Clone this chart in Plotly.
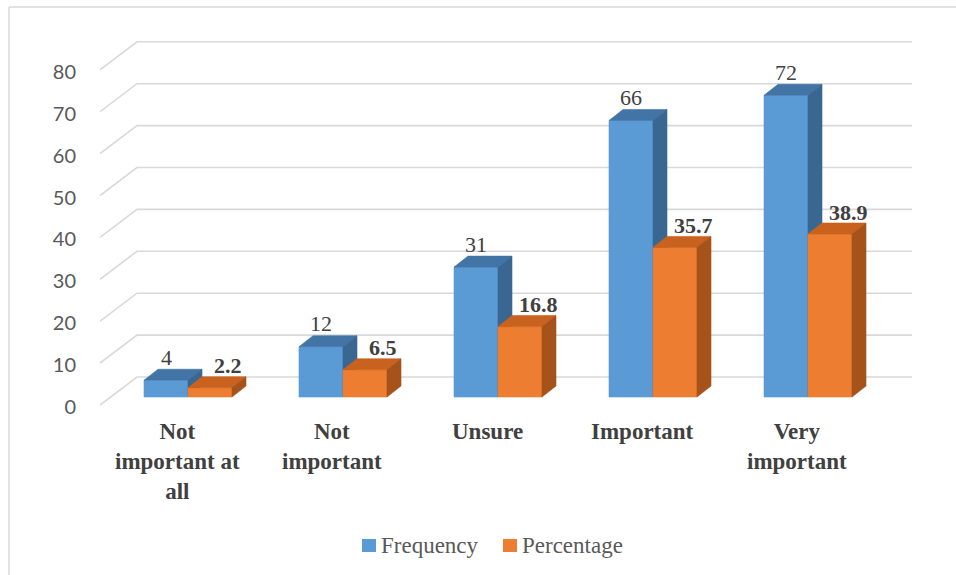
import plotly.graph_objects as go

# ---------------- data ----------------
categories = ["Not<br>important at<br>all", "Not<br>important", "Unsure", "Important", "Very<br>important"]
frequency = [4, 12, 31, 66, 72]
percentage = [2.2, 6.5, 16.8, 35.7, 38.9]
freq_labels = ["4", "12", "31", "66", "72"]
pct_labels = ["2.2", "6.5", "16.8", "35.7", "38.9"]
y_ticks = [0, 10, 20, 30, 40, 50, 60, 70, 80]
series_names = ["Frequency", "Percentage"]

# ---------------- style / geometry ----------------
W, H = 956, 575
ML, MR, MT, MB = 100, 36, 30, 165
PW, PH = W - ML - MR, H - MT - MB
PX_PER_CAT = 155.0
PX_PER_UNIT = 4.19
X0_PIX = 188.0        # pixel of category 0 centre
Y0_PIX = 397.0        # pixel of value 0 on the bar plane

def px_to_x(p):
    return (p - X0_PIX) / PX_PER_CAT

def px_to_y(p):
    return (Y0_PIX - p) / PX_PER_UNIT

def py_paper(p):
    return (MT + PH - p) / PH

def px_paper(p):
    return (p - ML) / PW

x_range = [px_to_x(ML), px_to_x(ML + PW)]
y_range = [px_to_y(MT + PH), px_to_y(MT)]

bar_w = 44 / PX_PER_CAT
dep_dx, dep_dy = 14 / PX_PER_CAT, 11 / PX_PER_UNIT      # bar depth
wall_dy = 20 / PX_PER_UNIT                              # back wall offset
front_dy = -8 / PX_PER_UNIT                             # front edge offset
wall_left = px_to_x(137)
wall_right = px_to_x(912)
left_edge = x_range[0]

colors = {
    "Frequency": ("#5B9BD5", "#4275A6", "#3A6792"),
    "Percentage": ("#ED7D31", "#C8621E", "#A5531A"),
}
grid_color = "#D9D9D9"

fig = go.Figure()

# gridlines: side diagonal + back wall
for v in y_ticks:
    fig.add_trace(go.Scatter(
        x=[left_edge, wall_left, wall_right],
        y=[v + front_dy, v + wall_dy, v + wall_dy],
        mode="lines", line=dict(color=grid_color, width=1.6),
        hoverinfo="skip", showlegend=False))

def add_face(xs, ys, color):
    fig.add_trace(go.Scatter(
        x=xs, y=ys, fill="toself", fillcolor=color, mode="lines",
        line=dict(color=color, width=0.6), hoverinfo="skip", showlegend=False))

for i in range(len(categories)):
    for name, vals, left in (("Frequency", frequency, i - bar_w), ("Percentage", percentage, i)):
        h = vals[i]
        L, R = left, left + bar_w
        cf, ct, cs = colors[name]
        add_face([L, R, R, L, L], [0, 0, h, h, 0], cf)
        add_face([L, R, R + dep_dx, L + dep_dx, L], [h, h, h + dep_dy, h + dep_dy, h], ct)
        add_face([R, R + dep_dx, R + dep_dx, R, R], [0, dep_dy, h + dep_dy, h, 0], cs)

annotations = []
serif = "Liberation Serif, Times New Roman, serif"
for i in range(len(categories)):
    annotations.append(dict(
        x=i - bar_w / 2, y=frequency[i], text=freq_labels[i], showarrow=False,
        yanchor="middle", yshift=23, font=dict(family=serif, size=22, color="#404040")))
    annotations.append(dict(
        x=i + bar_w / 2, y=percentage[i], text="<b>" + pct_labels[i] + "</b>", showarrow=False,
        yanchor="middle", yshift=22, xshift=18, font=dict(family=serif, size=22, color="#404040")))
    annotations.append(dict(
        x=i + px_to_x(X0_PIX - 11), xref="x", y=py_paper(417), yref="paper",
        text="<b>" + categories[i] + "</b>",
        showarrow=False, yanchor="top", xanchor="center",
        font=dict(family=serif, size=23, color="#404040")))

shapes = [
    dict(type="line", xref="paper", yref="paper",
         x0=px_paper(9), x1=px_paper(9), y0=py_paper(7), y1=py_paper(580),
         line=dict(color="#D9D9D9", width=1.5)),
    dict(type="line", xref="paper", yref="paper",
         x0=px_paper(9), x1=px_paper(960), y0=py_paper(7), y1=py_paper(7),
         line=dict(color="#D9D9D9", width=1.5)),
]

# manual legend (icon + text)
legend_pos = [362, 503]
for name, lx in zip(series_names, legend_pos):
    shapes.append(dict(type="rect", xref="paper", yref="paper",
                       x0=px_paper(lx), x1=px_paper(lx + 14),
                       y0=py_paper(552), y1=py_paper(539),
                       fillcolor=colors[name][0], line=dict(width=0)))
    annotations.append(dict(
        x=px_paper(lx + 17), xref="paper", y=py_paper(545), yref="paper",
        text=name, showarrow=False, xanchor="left", yanchor="middle",
        font=dict(family=serif, size=23, color="#595959")))

fig.update_layout(
    width=W, height=H,
    margin=dict(l=ML, r=MR, t=MT, b=MB),
    paper_bgcolor="white", plot_bgcolor="white",
    xaxis=dict(range=x_range, showgrid=False, zeroline=False, showline=False,
               showticklabels=False, fixedrange=True),
    yaxis=dict(range=y_range, showgrid=False, zeroline=False, showline=False,
               tickvals=y_ticks, ticktext=[str(t) for t in y_ticks],
               ticks="", ticklabelstandoff=23, ticklabelshift=10,
               tickfont=dict(family="Liberation Sans Narrow, Lato, sans-serif",
                             size=20, color="#595959"),
               fixedrange=True),
    annotations=annotations,
    shapes=shapes,
    showlegend=False,
)

fig.write_html("out.html")
